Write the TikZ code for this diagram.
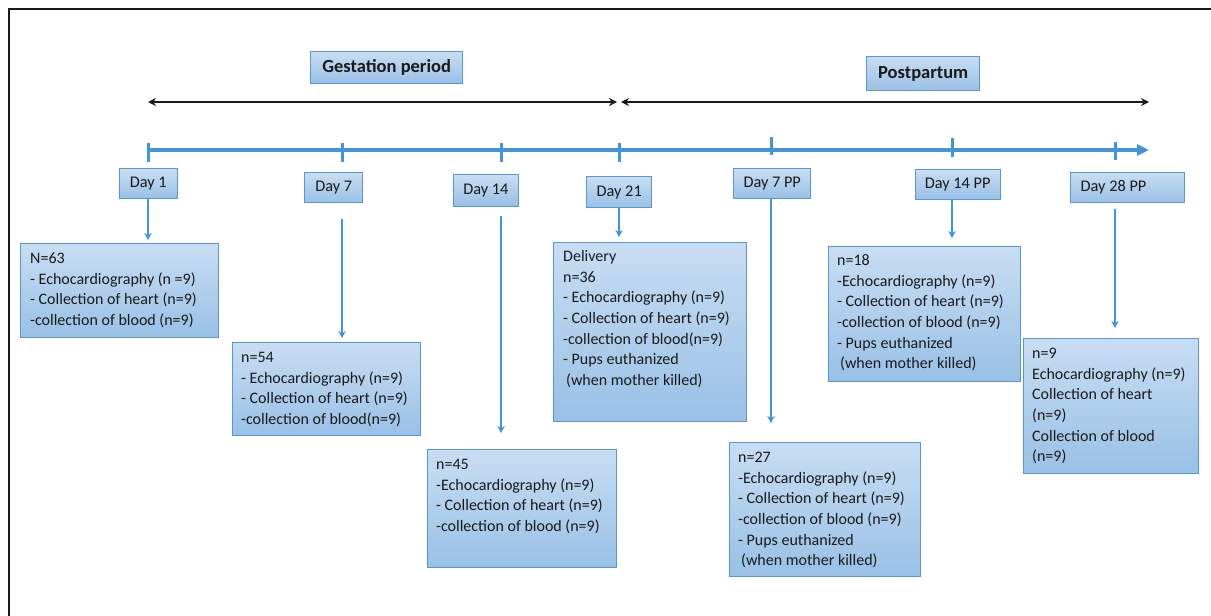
\documentclass[tikz,border=0pt]{standalone}
\usepackage{fontspec}
\setmainfont{Carlito}
\usetikzlibrary{arrows.meta,calc}
\definecolor{lineblue}{HTML}{4494D8}
\definecolor{edgeblue}{HTML}{5A96D0}
\definecolor{filltop}{HTML}{C8DDF2}
\definecolor{fillbot}{HTML}{98C0E6}
\definecolor{ink}{HTML}{1A1A1A}

\begin{document}
\begin{tikzpicture}[x=1pt,y=-1pt,
  panel/.style={draw=edgeblue, line width=1.4pt, top color=filltop, bottom color=fillbot,
                anchor=north west, inner sep=0pt},
  daybox/.style={panel, text=ink, font=\fontsize{16.3}{18}\selectfont},
  header/.style={panel, text=ink, font=\bfseries\fontsize{18.5}{22}\selectfont},
  body/.style={anchor=north west, inner sep=0pt, align=left, text=ink,
               font=\fontsize{16}{20.6}\selectfont},
  feed/.style={draw=lineblue, line width=2.2pt, -{Stealth[length=7pt,width=7.5pt]}},
  span/.style={draw=ink, line width=2.2pt,
               {Stealth[length=8pt,width=8pt]}-{Stealth[length=8pt,width=8pt]}},
  tickmark/.style={draw=lineblue, line width=3pt}
]
\useasboundingbox (0,0) rectangle (1211,616);
\fill[white] (0,0) rectangle (1211,616);

% frame
\draw[ink, line width=2.5pt] (9,616) -- (9,9) -- (1211,9);

% period headers
\node[header, minimum width=152pt, minimum height=32pt] (gest) at (310,51) {Gestation period};
\node[header, minimum width=113pt, minimum height=34pt] (post) at (866,56) {Postpartum};

% period spans
\coordinate (ga) at (148,102);
\coordinate (gb) at (617,102);
\coordinate (pa) at (621,102);
\coordinate (pb) at (1149,102);
\draw[span] (ga) -- (gb);
\draw[span] (pa) -- (pb);

% timeline
\coordinate (t1) at (148,150);
\coordinate (t2) at (342,150);
\coordinate (t3) at (501,150);
\coordinate (t4) at (619,150);
\coordinate (t5) at (771,150);
\coordinate (t6) at (952,150);
\coordinate (t7) at (1115,150);
\coordinate (tend) at (1149,150);
\draw[lineblue, line width=3.5pt, -{Triangle[length=12pt,width=11pt]}] (t1) -- (tend);
\foreach \t in {t1,t2,t3,t4} \draw[tickmark] ($(\t)+(0,-7)$) -- ($(\t)+(0,12)$);
\draw[tickmark] ($(t5)+(0,-13)$) -- ($(t5)+(0,5)$);
\draw[tickmark] ($(t6)+(0,-12)$) -- ($(t6)+(0,7)$);
\draw[tickmark] ($(t7)+(0,-8)$) -- ($(t7)+(0,10)$);

% day labels
\node[daybox, minimum width=58pt, minimum height=30pt] (d1) at (118.6,168) {Day 1};
\node[daybox, minimum width=58pt, minimum height=30pt] (d7) at (304,172) {Day 7};
\node[daybox, minimum width=65.5pt, minimum height=32pt] (d14) at (452.5,174) {Day 14};
\node[daybox, minimum width=65pt, minimum height=31pt] (d21) at (586,176) {Day 21};
\node[daybox, minimum width=77pt, minimum height=30pt] (d7pp) at (733,168) {Day 7 PP};
\node[daybox, minimum width=85pt, minimum height=30pt] (d14pp) at (914.5,169) {Day 14 PP};
\node[daybox, minimum width=114pt, minimum height=30pt] (d28pp) at (1070,172)
  {\makebox[114pt][l]{\hspace{10pt}Day 28 PP}};

% group boxes
\node[panel, minimum width=198pt, minimum height=94pt] (b1) at (20,243) {};
\node[body] at ($(b1.north west)+(10,6)$)
  {\strut N=63\\- Echocardiography (n =9)\\- Collection of heart (n=9)\\-collection of blood (n=9)};

\node[panel, minimum width=188pt, minimum height=93pt] (b7) at (232,342) {};
\node[body] at ($(b7.north west)+(9,6)$)
  {\strut n=54\\- Echocardiography (n=9)\\- Collection of heart (n=9)\\-collection of blood(n=9)};

\node[panel, minimum width=189pt, minimum height=118pt] (b14) at (427,449) {};
\node[body] at ($(b14.north west)+(9,6)$)
  {\strut n=45\\-Echocardiography (n=9)\\- Collection of heart (n=9)\\-collection of blood (n=9)};

\node[panel, minimum width=193pt, minimum height=179pt] (b21) at (553,242) {};
\node[body] at ($(b21.north west)+(10,5)$)
  {\strut Delivery\\n=36\\- Echocardiography (n=9)\\- Collection of heart (n=9)\\-collection of blood(n=9)\\- Pups euthanized\\\hspace{3pt}(when mother killed)};

\node[panel, minimum width=191pt, minimum height=134pt] (b7pp) at (729,442) {};
\node[body] at ($(b7pp.north west)+(9,6)$)
  {\strut n=27\\-Echocardiography (n=9)\\- Collection of heart (n=9)\\-collection of blood (n=9)\\- Pups euthanized\\\hspace{3pt}(when mother killed)};

\node[panel, minimum width=192pt, minimum height=135pt] (b14pp) at (828,246) {};
\node[body] at ($(b14pp.north west)+(9,5)$)
  {\strut n=18\\-Echocardiography (n=9)\\- Collection of heart (n=9)\\-collection of blood (n=9)\\- Pups euthanized\\\hspace{3pt}(when mother killed)};

\node[panel, minimum width=175pt, minimum height=135pt] (b28pp) at (1023,338) {};
\node[body] at ($(b28pp.north west)+(9,6)$)
  {\strut n=9\\Echocardiography (n=9)\\Collection of heart\\(n=9)\\Collection of blood\\(n=9)};

% feeds from days to groups
\draw[feed, shorten >=3pt] (t1 |- d1.south) -- (t1 |- b1.north);
\draw[feed, shorten >=4pt] ($(t2 |- d7.south)+(0,16)$) -- (t2 |- b7.north);
\draw[feed, shorten >=16pt] ($(t3 |- d14.south)+(0,9)$) -- (t3 |- b14.north);
\draw[feed, shorten >=5pt] (t4 |- d21.south) -- (t4 |- b21.north);
\draw[feed, shorten >=19pt] (t5 |- d7pp.south) -- (t5 |- b7pp.north);
\draw[feed, shorten >=8pt] (t6 |- d14pp.south) -- (t6 |- b14pp.north);
\draw[feed, shorten >=10pt] ($(t7 |- d28pp.south)+(0,6)$) -- (t7 |- b28pp.north);
\end{tikzpicture}
\end{document}
